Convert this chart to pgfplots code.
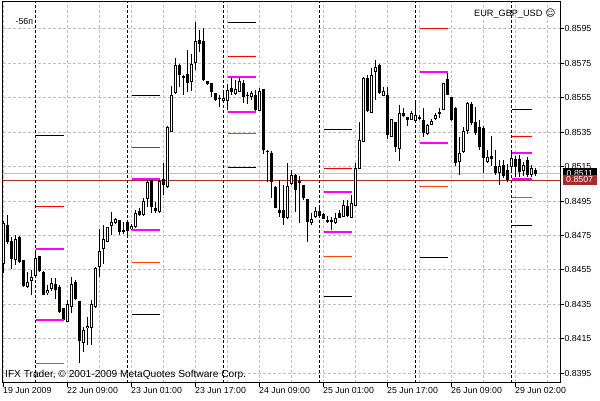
\documentclass[border=0pt]{standalone}
\usepackage{fontspec}
\setmainfont{Liberation Sans}
\newfontfamily\symb{DejaVu Sans}
\usepackage{pgfplots}
\pgfplotsset{compat=1.18}
\usepackage{pgfplotstable}
\usetikzlibrary{backgrounds}
\definecolor{gridgray}{HTML}{C0C0C0}
\definecolor{pivmag}{HTML}{FF00FF}
\definecolor{pivred}{HTML}{FF0000}
\definecolor{pivorg}{HTML}{FF4500}
\definecolor{askred}{HTML}{A52A2A}

\pgfplotstableread{
i o h l c
0 0.84588 0.84834 0.84530 0.84821
1 0.84811 0.84869 0.84704 0.84710
2 0.84718 0.84743 0.84559 0.84617
3 0.84607 0.84757 0.84578 0.84729
4 0.84739 0.84749 0.84588 0.84598
5 0.84607 0.84607 0.84452 0.84458
6 0.84449 0.84539 0.84447 0.84478
7 0.84487 0.84549 0.84408 0.84507
8 0.84516 0.84646 0.84510 0.84617
9 0.84631 0.84631 0.84539 0.84545
10 0.84539 0.84544 0.84404 0.84404
11 0.84417 0.84462 0.84404 0.84433
12 0.84439 0.84501 0.84427 0.84478
13 0.84468 0.84501 0.84381 0.84433
14 0.84452 0.84466 0.84298 0.84307
15 0.84327 0.84327 0.84253 0.84259
16 0.84249 0.84375 0.84244 0.84350
17 0.84336 0.84510 0.84298 0.84466
18 0.84478 0.84491 0.84375 0.84379
19 0.84369 0.84372 0.84007 0.84139
20 0.84129 0.84220 0.84075 0.84201
21 0.84211 0.84278 0.84114 0.84226
22 0.84216 0.84375 0.84114 0.84350
23 0.84336 0.84569 0.84331 0.84563
24 0.84568 0.84787 0.84510 0.84660
25 0.84670 0.84811 0.84588 0.84728
26 0.84714 0.84800 0.84711 0.84797
27 0.84807 0.84884 0.84753 0.84826
28 0.84821 0.84852 0.84819 0.84850
29 0.84840 0.84842 0.84753 0.84768
30 0.84782 0.84830 0.84762 0.84768
31 0.84830 0.84832 0.84753 0.84778
32 0.84787 0.84817 0.84782 0.84807
33 0.84801 0.84898 0.84793 0.84879
34 0.84892 0.84911 0.84863 0.84871
35 0.84869 0.84969 0.84863 0.84950
36 0.84960 0.85082 0.84917 0.85062
37 0.85072 0.85082 0.84879 0.84917
38 0.84911 0.84946 0.84879 0.84892
39 0.84888 0.85082 0.84879 0.85068
40 0.85078 0.85169 0.84985 0.85043
41 0.85033 0.85384 0.85027 0.85382
42 0.85353 0.85620 0.85349 0.85566
43 0.85576 0.85783 0.85573 0.85740
44 0.85744 0.85746 0.85614 0.85682
45 0.85672 0.85686 0.85566 0.85672
46 0.85686 0.85827 0.85585 0.85634
47 0.85643 0.85802 0.85589 0.85744
48 0.85754 0.85992 0.85711 0.85880
49 0.85886 0.85944 0.85818 0.85866
50 0.85880 0.85957 0.85651 0.85653
51 0.85647 0.85649 0.85626 0.85628
52 0.85634 0.85636 0.85556 0.85585
53 0.85576 0.85578 0.85531 0.85537
54 0.85547 0.85566 0.85495 0.85547
55 0.85534 0.85585 0.85531 0.85549
56 0.85531 0.85630 0.85479 0.85599
57 0.85605 0.85663 0.85566 0.85583
58 0.85572 0.85653 0.85566 0.85599
59 0.85585 0.85665 0.85583 0.85647
60 0.85634 0.85653 0.85520 0.85556
61 0.85566 0.85585 0.85514 0.85566
62 0.85558 0.85591 0.85537 0.85578
63 0.85566 0.85595 0.85473 0.85479
64 0.85475 0.85607 0.85473 0.85592
65 0.85599 0.85601 0.85227 0.85246
66 0.85241 0.85246 0.85062 0.85241
67 0.85231 0.85242 0.84966 0.85062
68 0.85033 0.85035 0.84909 0.84911
69 0.84898 0.85072 0.84859 0.84884
70 0.84898 0.85043 0.84811 0.84853
71 0.84850 0.85169 0.84848 0.85039
72 0.85047 0.85130 0.85043 0.85101
73 0.85105 0.85107 0.84888 0.85018
74 0.85061 0.85095 0.84821 0.85066
75 0.85043 0.85045 0.84956 0.84966
76 0.84962 0.84964 0.84714 0.84826
77 0.84821 0.84879 0.84811 0.84850
78 0.84855 0.84917 0.84851 0.84894
79 0.84892 0.84927 0.84857 0.84865
80 0.84879 0.84881 0.84846 0.84850
81 0.84840 0.84863 0.84822 0.84826
82 0.84840 0.84857 0.84782 0.84826
83 0.84821 0.84880 0.84817 0.84853
84 0.84879 0.84898 0.84851 0.84853
85 0.84859 0.84956 0.84857 0.84927
86 0.84923 0.84956 0.84857 0.84863
87 0.84853 0.84985 0.84851 0.84937
88 0.84923 0.85169 0.84921 0.85144
89 0.85140 0.85411 0.85138 0.85309
90 0.85295 0.85669 0.85293 0.85667
91 0.85663 0.85686 0.85471 0.85473
92 0.85465 0.85725 0.85463 0.85686
93 0.85698 0.85769 0.85537 0.85727
94 0.85740 0.85744 0.85570 0.85576
95 0.85562 0.85614 0.85560 0.85589
96 0.85570 0.85614 0.85314 0.85334
97 0.85324 0.85427 0.85322 0.85425
98 0.85411 0.85413 0.85237 0.85266
99 0.85256 0.85508 0.85183 0.85465
100 0.85460 0.85489 0.85440 0.85446
101 0.85440 0.85442 0.85388 0.85421
102 0.85421 0.85473 0.85419 0.85460
103 0.85417 0.85518 0.85411 0.85450
104 0.85440 0.85450 0.85421 0.85425
105 0.85421 0.85489 0.85324 0.85349
106 0.85338 0.85398 0.85334 0.85392
107 0.85396 0.85427 0.85392 0.85419
108 0.85425 0.85462 0.85421 0.85450
109 0.85465 0.85489 0.85431 0.85465
110 0.85479 0.85636 0.85477 0.85634
111 0.85659 0.85701 0.85564 0.85566
112 0.85556 0.85558 0.85419 0.85421
113 0.85490 0.85498 0.85153 0.85169
114 0.85178 0.85324 0.85101 0.85227
115 0.85237 0.85380 0.85229 0.85359
116 0.85357 0.85527 0.85339 0.85518
117 0.85514 0.85527 0.85392 0.85402
118 0.85409 0.85498 0.85334 0.85345
119 0.85380 0.85421 0.85246 0.85266
120 0.85374 0.85386 0.85113 0.85198
121 0.85177 0.85246 0.85171 0.85206
122 0.85212 0.85330 0.85153 0.85193
123 0.85153 0.85246 0.85101 0.85115
124 0.85115 0.85188 0.85043 0.85153
125 0.85159 0.85188 0.85084 0.85095
126 0.85130 0.85169 0.85061 0.85072
127 0.85146 0.85227 0.85130 0.85198
128 0.85193 0.85212 0.85090 0.85150
129 0.85198 0.85217 0.85091 0.85120
130 0.85126 0.85177 0.85095 0.85159
131 0.85188 0.85208 0.85090 0.85101
132 0.85101 0.85159 0.85091 0.85140
133 0.85130 0.85140 0.85097 0.85107
}\candles

\begin{document}
\begin{tikzpicture}[x=1bp,y=1bp]
\begin{axis}[
  scale only axis, width=557.6bp, height=380.7bp,
  xmin=-0.2, xmax=139.2, ymin=0.838945, ymax=0.861064,
  axis line style={black, line width=1bp},
  tick align=outside, major tick length=4bp, minor tick length=0pt,
  tick style={black, line width=1bp},
  xtick={0,16,...,128}, minor xtick={8,24,...,136},
  xticklabels={19 Jun 2009,22 Jun 09:00,23 Jun 01:00,23 Jun 17:00,24 Jun 09:00,25 Jun 01:00,25 Jun 17:00,26 Jun 09:00,29 Jun 02:00},
  ytick={0.8395,0.8415,0.8435,0.8455,0.8475,0.8495,0.8515,0.8535,0.8555,0.8575,0.8595},
  yticklabels={0.8395,0.8415,0.8435,0.8455,0.8475,0.8495,0.8515,0.8535,0.8555,0.8575,0.8595},
  xtick pos=bottom, ytick pos=right, yticklabel pos=right,
  grid=both,
  major grid style={gridgray, line width=1bp, dash pattern=on 3bp off 2bp},
  minor grid style={gridgray, line width=1bp, dash pattern=on 3bp off 2bp},
  ticklabel style={font=\fontsize{8.8}{10}\selectfont, inner sep=0pt},
  xticklabel style={anchor=north west, xshift=-0.5bp},
  yticklabel style={anchor=west},
  extra x ticks={8,31,55,79,103,127},
  extra x tick labels={},
  extra x tick style={grid=major, major tick length=0pt, major grid style={black, line width=1bp, dash pattern=on 3bp off 2bp}},
]
\coordinate (O) at (rel axis cs:0,0);
% bid / ask lines
\addplot[gridgray, line width=1bp, forget plot] coordinates {(-1,0.8511) (141,0.8511)};
\addplot[askred, line width=1bp, forget plot] coordinates {(-1,0.8507) (141,0.8507)};
% wicks
\addplot[draw=none, mark=none, forget plot, error bars/.cd, y dir=both, y explicit, error mark=none,
  error bar style={draw=black, line width=1bp}]
  table[x=i, y expr={(\thisrow{h}+\thisrow{l})/2}, y error expr={(\thisrow{h}-\thisrow{l})/2}] {\candles};
% bodies
\addplot[draw=none, mark=none, forget plot, error bars/.cd, y dir=both, y explicit, error mark=none,
  error bar style={draw=black, line width=3bp}]
  table[x=i, y expr={(\thisrow{o}+\thisrow{c})/2}, y error expr={max(abs(\thisrow{c}-\thisrow{o})/2,0.000029)}] {\candles};
\addplot[draw=none, mark=none, forget plot, error bars/.cd, y dir=both, y explicit, error mark=none,
  error bar style={draw=white, line width=1bp}]
  table[x=i, y expr={(\thisrow{o}+\thisrow{c})/2}, y error expr={max((\thisrow{c}-\thisrow{o})/2-0.0000581,0)}] {\candles};
% pivot levels
\addplot[black, line width=1bp, unbounded coords=jump, forget plot] coordinates {
 (8,0.85332) (15,0.85332) (15,nan)
 (32,0.85564) (39,0.85564) (39,nan) (32,0.84292) (39,0.84292) (39,nan)
 (56,0.85988) (63,0.85988) (63,nan) (56,0.85146) (63,0.85146) (63,nan)
 (80,0.85368) (87,0.85368) (87,nan) (80,0.84396) (87,0.84396) (87,nan)
 (104,0.84623) (111,0.84623) (111,nan)
 (127,0.85483) (132,0.85483) (132,nan) (127,0.84809) (132,0.84809)};
\addplot[pivred, line width=1bp, unbounded coords=jump, forget plot] coordinates {
 (8,0.84921) (15,0.84921) (15,nan)
 (32,0.85262) (39,0.85262) (39,nan)
 (56,0.85791) (63,0.85791) (63,nan)
 (80,0.85140) (87,0.85140) (87,nan)
 (104,0.85950) (111,0.85950) (111,nan)
 (127,0.85326) (132,0.85326)};
\addplot[pivorg, line width=1bp, unbounded coords=jump, forget plot] coordinates {
 (8,0.84007) (15,0.84007) (15,nan)
 (32,0.84594) (39,0.84594) (39,nan)
 (56,0.85343) (63,0.85343) (63,nan)
 (80,0.84629) (87,0.84629) (87,nan)
 (104,0.85037) (111,0.85037) (111,nan)
 (127,0.84972) (132,0.84972)};
\addplot[pivmag, line width=2.2bp, unbounded coords=jump, forget plot] coordinates {
 (8,0.84671) (15,0.84671) (15,nan) (8,0.84260) (15,0.84260) (15,nan)
 (32,0.85080) (39,0.85080) (39,nan) (32,0.84783) (39,0.84783) (39,nan)
 (56,0.85672) (63,0.85672) (63,nan) (56,0.85469) (63,0.85469) (63,nan)
 (80,0.85002) (87,0.85002) (87,nan) (80,0.84770) (87,0.84770) (87,nan)
 (104,0.85701) (111,0.85701) (111,nan) (104,0.85289) (111,0.85289) (111,nan)
 (127,0.85231) (132,0.85231) (132,nan) (127,0.85076) (132,0.85076)};
\end{axis}
\begin{scope}[shift={(O)}, shift={(-2.7,-17.3)}]
\begin{scope}[on background layer]
\fill[white] (0,0) rectangle (600,400);
\end{scope}
\path (0,0) rectangle (600,400);
\node[fill=black, text=white, minimum width=34bp, minimum height=10.6bp, inner sep=0pt, anchor=west, font=\fontsize{8.8}{10}\selectfont] at (562.6,226.3) {0.8511};
\node[fill=askred, text=white, minimum width=34bp, minimum height=10.6bp, inner sep=0pt, anchor=west, font=\fontsize{8.8}{10}\selectfont] at (562.4,220.2) {0.8507};
\node[anchor=base west, inner sep=0pt, font=\fontsize{8.8}{10}\selectfont] at (15.5,376) {-56п};
\node[anchor=base west, inner sep=0pt, font=\fontsize{9.2}{11}\selectfont] at (474,384) {EUR\_GBP\_USD};
\node[anchor=base west, inner sep=0pt, font=\symb\fontsize{9.5}{11}\selectfont] at (545.3,384) {☺};
\node[anchor=base west, inner sep=0pt, font=\fontsize{10.2}{12}\selectfont] at (5,22.5) {IFX Trader, © 2001-2009 MetaQuotes Software Corp.};
\end{scope}
\end{tikzpicture}
\end{document}
